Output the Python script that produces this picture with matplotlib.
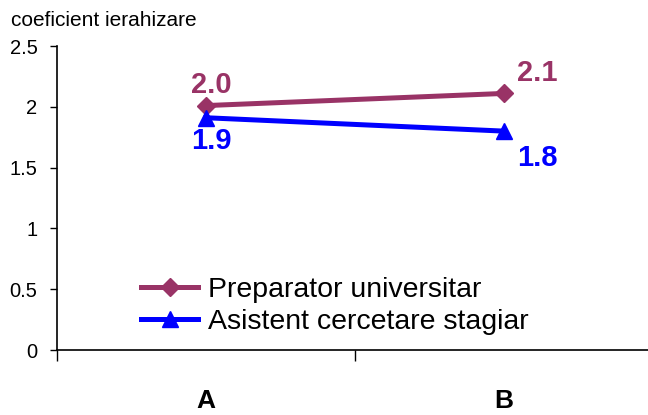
import numpy as np
import matplotlib.pyplot as plt

plt.rcParams['font.family'] = ['Liberation Sans', 'DejaVu Sans']

categories = ['A', 'B']
preparator = [2.01, 2.11]
asistent = [1.91, 1.80]
series_names = ['Preparator universitar', 'Asistent cercetare stagiar']
y_label = 'coeficient ierahizare'

purple = '#993366'
blue = '#0000FF'

fig = plt.figure(figsize=(6.48, 4.15), dpi=100)
ax = fig.add_axes([57 / 648, 1 - 350 / 415, 596 / 648, 304 / 415])

x = np.arange(len(categories))
ax.plot(x, preparator, color=purple, lw=3.6, marker='D', ms=9, label=series_names[0])
ax.plot(x, asistent, color=blue, lw=3.6, marker='^', ms=11, label=series_names[1])

# data labels (offsets in points)
offsets_p = [(4, 15), (24, 15)]
offsets_a = [(4, -17), (24, -19)]
for i in range(len(categories)):
    ax.annotate(f'{preparator[i]:.1f}', (x[i], preparator[i]), xytext=offsets_p[i],
                textcoords='offset points', ha='center', va='center',
                fontsize=21, fontweight='bold', color=purple)
    ax.annotate(f'{asistent[i]:.1f}', (x[i], asistent[i]), xytext=offsets_a[i],
                textcoords='offset points', ha='center', va='center',
                fontsize=21, fontweight='bold', color=blue)

ax.set_xlim(-0.5, 1.5)
ax.set_ylim(0, 2.5)
ax.set_yticks(np.arange(0, 2.51, 0.5))
ax.set_yticklabels(['0', '0.5', '1', '1.5', '2', '2.5'])
ax.tick_params(axis='y', labelsize=14.5, length=5, width=1, direction='out', pad=9)

ax.set_xticks(x)
ax.set_xticklabels(categories, fontsize=19, fontweight='bold')
ax.tick_params(axis='x', length=0, pad=28)
ax.set_xticks([-0.5, 0.5, 1.5], minor=True)
ax.tick_params(axis='x', which='minor', length=8, width=1, direction='out')

for s in ['top', 'right']:
    ax.spines[s].set_visible(False)
ax.spines['left'].set_linewidth(1.2)
ax.spines['bottom'].set_linewidth(1.2)

fig.text(11 / 648, 1 - 20 / 415, y_label, fontsize=15, va='center', ha='left')

ax.legend(loc='lower left', bbox_to_anchor=(0.122, 0.012), frameon=False,
          fontsize=20.5, handlelength=2.0, handletextpad=0.35, labelspacing=0.22,
          borderaxespad=0)

fig.savefig('out.png', dpi=100)
